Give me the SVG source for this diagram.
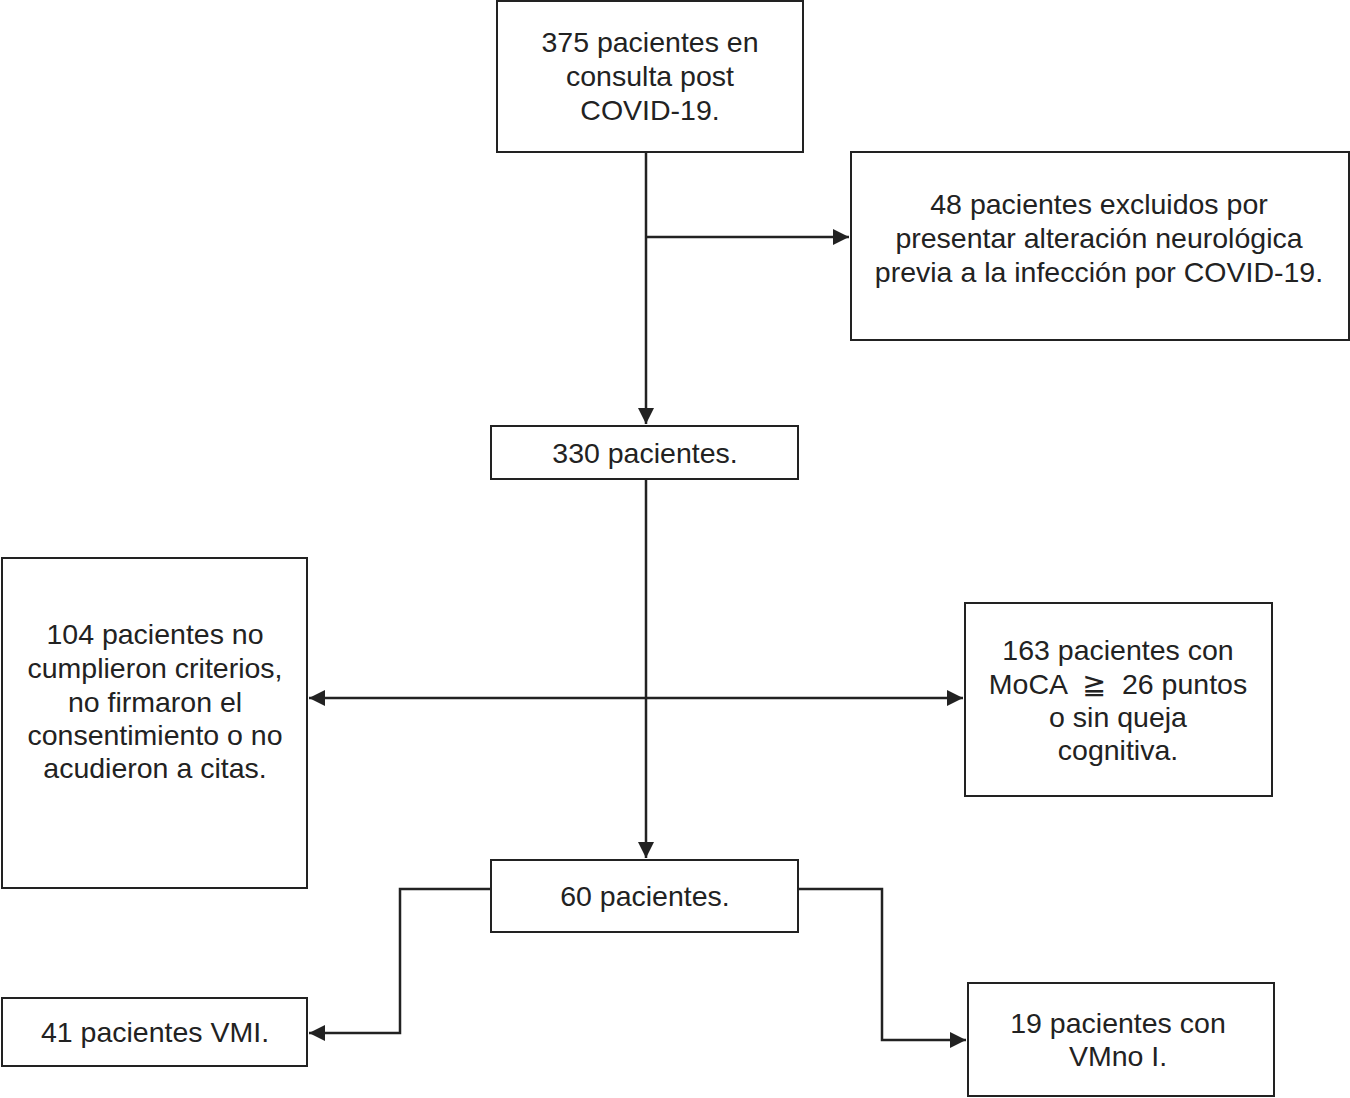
<svg xmlns="http://www.w3.org/2000/svg" width="1350" height="1098" viewBox="0 0 1350 1098">
<defs>
<marker id="arr" viewBox="0 0 10 10" refX="10" refY="5" markerWidth="6.5" markerHeight="6.5" markerUnits="strokeWidth" orient="auto-start-reverse">
<path d="M0,0 L10,5 L0,10 z" fill="#222"/>
</marker>
</defs>
<style>
.box{fill:#fff;stroke:#222;stroke-width:2}
.t{font-family:"Liberation Sans",Arial,"DejaVu Sans",sans-serif;font-size:28.5px;fill:#222;text-anchor:middle}
.c{fill:none;stroke:#222;stroke-width:2.5}
</style>
<rect width="1350" height="1098" fill="#fff"/>
<g id="connectors">
<path class="c" d="M646,152 V424" marker-end="url(#arr)"/>
<path class="c" d="M646,237 H849" marker-end="url(#arr)"/>
<path class="c" d="M646,479 V858" marker-end="url(#arr)"/>
<path class="c" d="M309,698 H963" marker-start="url(#arr)" marker-end="url(#arr)"/>
<path class="c" d="M491,889 H400 V1033 H309" marker-end="url(#arr)"/>
<path class="c" d="M798,889 H882 V1040 H966" marker-end="url(#arr)"/>
</g>
<g id="n1">
<rect class="box" x="497" y="1" width="306" height="151"/>
<text class="t" x="650" y="52">375 pacientes en</text>
<text class="t" x="650" y="86">consulta post</text>
<text class="t" x="650" y="120">COVID-19.</text>
</g>
<g id="n2">
<rect class="box" x="851" y="152" width="498" height="188"/>
<text class="t" x="1099" y="214">48 pacientes excluidos por</text>
<text class="t" x="1099" y="248">presentar alteración neurológica</text>
<text class="t" x="1099" y="282">previa a la infección por COVID-19.</text>
</g>
<g id="n3">
<rect class="box" x="491" y="426" width="307" height="53"/>
<text class="t" x="645" y="463">330 pacientes.</text>
</g>
<g id="n4">
<rect class="box" x="2" y="558" width="305" height="330"/>
<text class="t" x="155" y="644">104 pacientes no</text>
<text class="t" x="155" y="678">cumplieron criterios,</text>
<text class="t" x="155" y="712">no firmaron el</text>
<text class="t" x="155" y="745">consentimiento o no</text>
<text class="t" x="155" y="778">acudieron a citas.</text>
</g>
<g id="n5">
<rect class="box" x="965" y="603" width="307" height="193"/>
<text class="t" x="1118" y="660">163 pacientes con</text>
<text class="t" x="1118" y="694" xml:space="preserve" style="white-space:pre">MoCA  ≧  26 puntos</text>
<text class="t" x="1118" y="727">o sin queja</text>
<text class="t" x="1118" y="760">cognitiva.</text>
</g>
<g id="n6">
<rect class="box" x="491" y="860" width="307" height="72"/>
<text class="t" x="645" y="906">60 pacientes.</text>
</g>
<g id="n7">
<rect class="box" x="2" y="998" width="305" height="68"/>
<text class="t" x="155" y="1042">41 pacientes VMI.</text>
</g>
<g id="n8">
<rect class="box" x="968" y="983" width="306" height="113"/>
<text class="t" x="1118" y="1033">19 pacientes con</text>
<text class="t" x="1118" y="1066">VMno I.</text>
</g>
</svg>
